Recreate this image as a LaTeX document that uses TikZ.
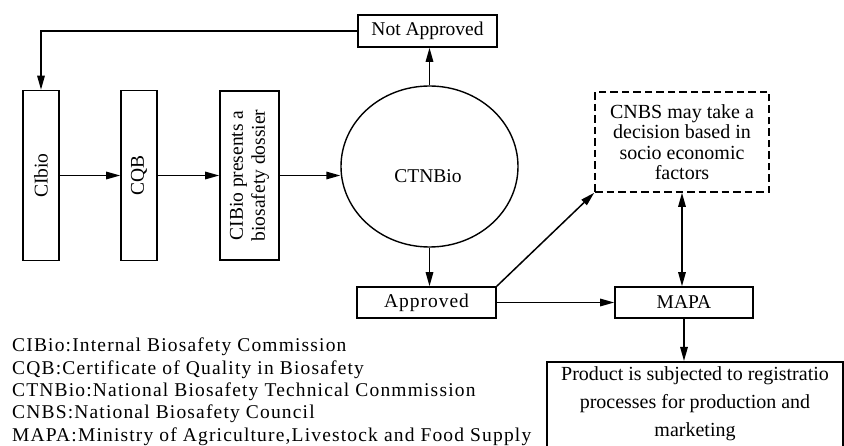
\documentclass[tikz,border=0pt]{standalone}
\usepackage{fontspec}
\setmainfont{Liberation Serif}
\newfontfamily\legendfont[LetterSpace=6]{Liberation Serif}
\usetikzlibrary{arrows.meta,shapes.geometric,calc}

\tikzset{
  tip/.tip={Triangle[length=14pt,width=7.5pt]},
  flow/.style={line width=1.5pt, -tip},
  twoway/.style={line width=1.5pt, tip-tip},
  boxlabel/.style={font=\fontsize{19.5}{22}\selectfont},
  plainbox/.style={draw, line width=1.6pt, rectangle, inner sep=0pt, boxlabel},
  vbox/.style={plainbox, rotate=90, align=center},
  dashbox/.style={draw, line width=1.6pt, dash pattern=on 7.5pt off 4pt, rectangle,
    inner sep=0pt, align=center, font=\fontsize{20}{20.5}\selectfont},
  legendline/.style={anchor=base west, inner sep=0pt, font=\legendfont\fontsize{19.5}{22}\selectfont}
}

\begin{document}
\begin{tikzpicture}[x=1pt, y=-1pt]
\useasboundingbox (0,0) rectangle (844,446);
\clip (0,0) rectangle (844,446);

% review chain
\node[vbox, minimum width=170, minimum height=36] (cibio) at (41,175.5) {CIbio};
\node[vbox, minimum width=170, minimum height=36] (cqb) at (139,175.5) {CQB};
\node[vbox, minimum width=169, minimum height=59] (dossier) at (249.5,175.5)
  {CIBio presents a\\biosafety dossier};
\node[draw, line width=1.4pt, ellipse, minimum width=177, minimum height=161, inner sep=0pt]
  (ctn) at (429.5,166.5) {};
\node[boxlabel, inner sep=0pt] (ctnlabel) at (428,176) {CTNBio};

% outcomes
\node[plainbox, minimum width=139, minimum height=32] (notappr) at (427.5,31) {Not Approved};
\node[plainbox, minimum width=139, minimum height=31] (approved) at (426.5,302.5)
  {\addfontfeature{LetterSpace=5}Approved};
\node[dashbox, minimum width=174, minimum height=100] (cnbs) at (682,142)
  {CNBS may take a\\decision based in\\socio economic\\factors};
\node[plainbox, minimum width=138, minimum height=31] (mapa) at (684,302.5) {MAPA};
\node[plainbox, minimum width=296, minimum height=120, anchor=north] (product) at (695,361) {};
\node[align=center, inner sep=0pt, font=\fontsize{20}{28}\selectfont] (producttext) at (695,404)
  {Product is subjected to registratio\\processes for production and\\marketing};

% connectors
\draw[flow] (cibio) -- (cqb);
\draw[flow] (cqb) -- (dossier);
\draw[flow] (dossier.south) -- (dossier.south -| ctn.west);
\draw[flow] (ctn.north) -- (ctn.north |- notappr.south);
\draw[flow] (notappr.west) -| (cibio.east);
\draw[flow] (ctn.south) -- (ctn.south |- approved.north);
\draw[flow] (approved.north east) -- (cnbs.south west);
\draw[flow] (approved) -- (mapa);
\draw[twoway] (cnbs.south) -- (cnbs.south |- mapa.north);
\draw[flow] (mapa.south) -- (mapa.south |- product.north);

% abbreviations
\node[legendline] (l1) at (12,352) {CIBio:Internal Biosafety Commission};
\node[legendline] (l2) at (12,374.5) {CQB:Certificate of Quality in Biosafety};
\node[legendline] (l3) at (12,397) {CTNBio:National Biosafety Technical Conmmission};
\node[legendline] (l4) at (12,419) {CNBS:National Biosafety Council};
\node[legendline] (l5) at (12,441.5) {MAPA:Ministry of Agriculture,Livestock and Food Supply};
\end{tikzpicture}
\end{document}
